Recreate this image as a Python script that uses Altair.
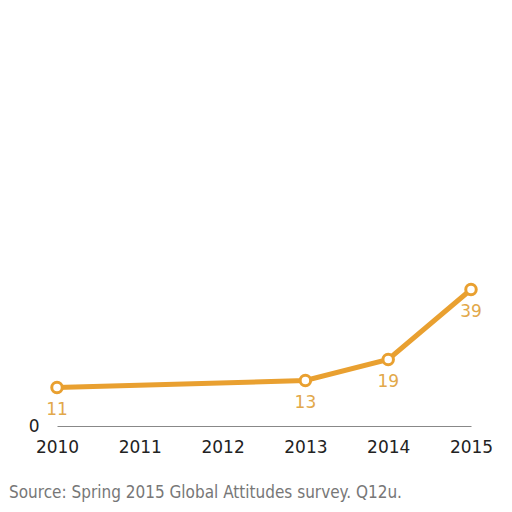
import altair as alt
import pandas as pd

years = [2010, 2013, 2014, 2015]
values = [11, 13, 19, 39]
year_ticks = [2010, 2011, 2012, 2013, 2014, 2015]
source_text = "Source: Spring 2015 Global Attitudes survey. Q12u."

df = pd.DataFrame({"year": years, "value": values})

ORANGE = "#E9A030"
LABEL_ORANGE = "#E2A84A"

x = alt.X("year:Q",
          scale=alt.Scale(domain=[2010, 2015], nice=False, zero=False),
          axis=alt.Axis(values=year_ticks, format="d", title=None, grid=False,
                        ticks=False, domain=True, domainColor="#888888",
                        domainWidth=1, labelFontSize=17, labelColor="#222222",
                        labelFont="DejaVu Sans", labelPadding=13,
                        labelFlush=False))
y = alt.Y("value:Q",
          scale=alt.Scale(domain=[0, 40], nice=False),
          axis=alt.Axis(values=[0], title=None, grid=False, ticks=False,
                        domain=False, labelFontSize=17, labelColor="#222222",
                        labelFont="DejaVu Sans", labelPadding=18))

base = alt.Chart(df)

line = base.mark_line(color=ORANGE, strokeWidth=5).encode(x=x, y=y)
points = base.mark_point(filled=True, fill="white", stroke=ORANGE,
                         strokeWidth=3, size=110, opacity=1).encode(x=x, y=y)
labels = base.mark_text(color=LABEL_ORANGE, fontSize=17, dy=22,
                        font="DejaVu Sans").encode(x=x, y=y, text="value:Q")

chart = alt.layer(line, points, labels).properties(
    width=414,
    height=140,
    autosize=alt.AutoSizeParams(type="none"),
    padding={"left": 49, "top": 278, "right": 33, "bottom": 78},
    title=alt.TitleParams(source_text, orient="bottom", anchor="start",
                          frame="group", dx=-48, offset=30, fontSize=17,
                          fontWeight="normal", color="#777777",
                          font="DejaVu Sans Condensed"),
).configure(background="white").configure_view(stroke=None)

chart.save("out.html", embed_options={"renderer": "svg", "actions": False})
